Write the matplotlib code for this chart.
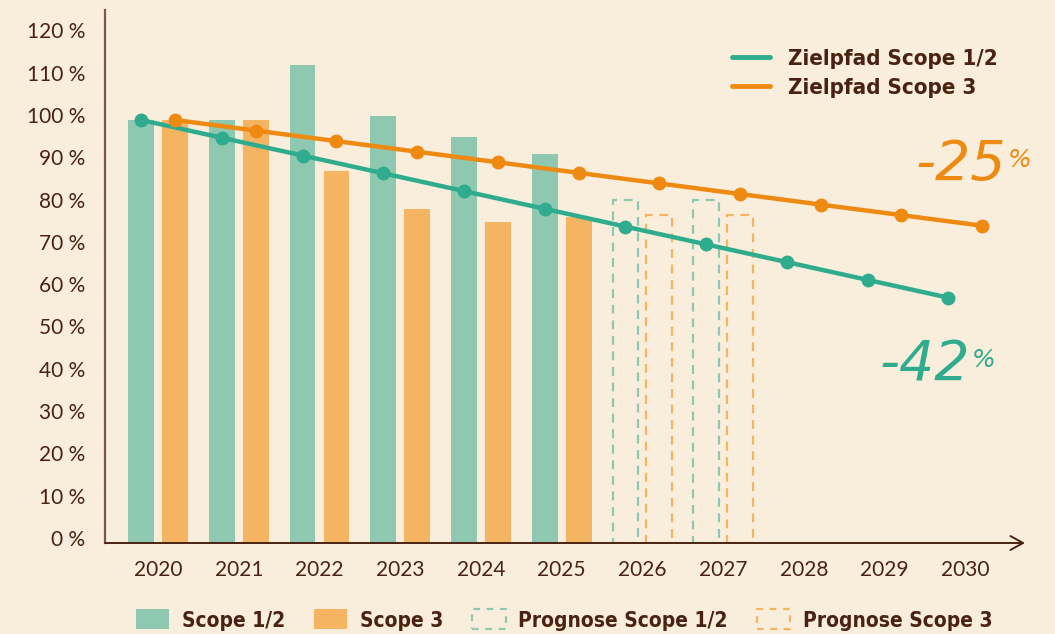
import numpy as np
import matplotlib
matplotlib.use("Agg")
import matplotlib.pyplot as plt
from matplotlib.patches import Rectangle
from matplotlib.lines import Line2D
import matplotlib.transforms as mtransforms
from matplotlib import font_manager

# Daten
years = ["2020", "2021", "2022", "2023", "2024", "2025", "2026", "2027", "2028", "2029", "2030"]
scope12 = [100, 100, 113, 101, 96, 92]
scope3 = [100, 100, 88, 79, 76, 77]
prog_years = ["2026", "2027"]
prog_scope12 = [81, 81]
prog_scope3 = [77.5, 77.5]
ziel_scope12 = [100, 95.8, 91.6, 87.4, 83.2, 79.0, 74.8, 70.6, 66.4, 62.2, 58.0]
ziel_scope3 = [100, 97.5, 95.0, 92.5, 90.0, 87.5, 85.0, 82.5, 80.0, 77.5, 75.0]
yticks = [0, 10, 20, 30, 40, 50, 60, 70, 80, 90, 100, 110, 120]

# Farben
bg = "#f8eedb"
brown = "#4a2212"
teal = "#2fab8d"
teal_bar = "#8fc8b1"
orange = "#ee8a12"
orange_bar = "#f5b462"


def cond_font(size):
    return font_manager.FontProperties(family="DejaVu Sans", weight="bold",
                                       stretch="condensed", size=size)


fig = plt.figure(figsize=(10.55, 6.34), dpi=100)
fig.patch.set_facecolor(bg)
ax = fig.add_axes([105 / 1055, 91 / 634, 920 / 1055, 533 / 634])
ax.set_facecolor("none")

x = np.arange(len(years))
w = 0.32
off = 0.21

# Balken Ist-Werte
ax.bar(x[:len(scope12)] - off, scope12, w, color=teal_bar, zorder=2)
ax.bar(x[:len(scope3)] + off, scope3, w, color=orange_bar, zorder=2)

# Prognose (gestrichelt)
px = np.array([years.index(y) for y in prog_years])
for xi, v in zip(px, prog_scope12):
    ax.add_patch(Rectangle((xi - off - w / 2, 0), w, v, fill=False, edgecolor=teal_bar,
                           linestyle=(0, (4, 3)), linewidth=1.6, zorder=2))
for xi, v in zip(px, prog_scope3):
    ax.add_patch(Rectangle((xi + off - w / 2, 0), w, v, fill=False, edgecolor=orange_bar,
                           linestyle=(0, (4, 3)), linewidth=1.6, zorder=2))

# Zielpfade
ax.plot(x - off, ziel_scope12, color=teal, lw=3.2, marker="o", ms=9, zorder=4)
ax.plot(x + off, ziel_scope3, color=orange, lw=3.2, marker="o", ms=9, zorder=4)

ax.set_xlim(-0.657, 10.74)
ax.set_ylim(0, 126)

ax.set_yticks(yticks)
ax.set_yticklabels([f"{t} %" for t in yticks])
ax.set_xticks(x)
ax.set_xticklabels(years)
ax.tick_params(axis="both", length=0, colors=brown, labelsize=15)
ax.tick_params(axis="y", pad=14)
ax.tick_params(axis="x", pad=12)
shift = mtransforms.ScaledTranslation(0, 5 / 100, fig.dpi_scale_trans)
for lab in ax.get_yticklabels():
    lab.set_transform(lab.get_transform() + shift)
    lab.set_family(["Lato", "DejaVu Sans"])
for lab in ax.get_xticklabels():
    lab.set_family(["Lato", "DejaVu Sans"])

for s in ["top", "right", "bottom"]:
    ax.spines[s].set_visible(False)
ax.spines["left"].set_color("#7a5846")
ax.spines["left"].set_linewidth(1.6)

# x-Achse mit Pfeil
ax.annotate("", xy=(1.0, 0), xycoords="axes fraction", xytext=(0, 0),
            arrowprops=dict(arrowstyle="->,head_length=0.9,head_width=0.5",
                            color=brown, lw=1.4, shrinkA=0, shrinkB=0), zorder=5)

# Ziel-Beschriftungen
fig.text(916 / 1055, 1 - 165 / 634, "-25", color=orange, fontsize=40, style="italic",
         weight="light", va="center", ha="left")
fig.text(1008 / 1055, 1 - 160 / 634, "%", color=orange, fontsize=18, style="italic",
         va="center", ha="left")
fig.text(880 / 1055, 1 - 365 / 634, "-42", color=teal, fontsize=40, style="italic",
         weight="light", va="center", ha="left")
fig.text(972 / 1055, 1 - 360 / 634, "%", color=teal, fontsize=18, style="italic",
         va="center", ha="left")

# Legende oben
top_handles = [Line2D([0], [0], color=teal, lw=3.5, solid_capstyle="round"),
               Line2D([0], [0], color=orange, lw=3.5, solid_capstyle="round")]
leg1 = fig.legend(top_handles, ["Zielpfad Scope 1/2", "Zielpfad Scope 3"],
                  loc="upper left", bbox_to_anchor=(712 / 1055, 1 - 29 / 634),
                  frameon=False, handlelength=1.7, handletextpad=0.8, labelspacing=0.4,
                  prop=cond_font(16))
for t in leg1.get_texts():
    t.set_color(brown)

# Legende unten
bot_handles = [Rectangle((0, 0), 1, 1, facecolor=teal_bar, edgecolor="none"),
               Rectangle((0, 0), 1, 1, facecolor=orange_bar, edgecolor="none"),
               Rectangle((0, 0), 1, 1, facecolor="none", edgecolor=teal_bar, linestyle=(0, (3, 3)), lw=1.6),
               Rectangle((0, 0), 1, 1, facecolor="none", edgecolor=orange_bar, linestyle=(0, (3, 3)), lw=1.6)]
leg2 = fig.legend(bot_handles, ["Scope 1/2", "Scope 3", "Prognose Scope 1/2", "Prognose Scope 3"],
                  loc="center", bbox_to_anchor=(564 / 1055, 1 - 620 / 634), ncol=4,
                  frameon=False, handlelength=1.6, handleheight=1.1, handletextpad=0.6,
                  columnspacing=1.4, prop=cond_font(15))
for t in leg2.get_texts():
    t.set_color(brown)

fig.savefig("out.png", dpi=100, facecolor=bg)
